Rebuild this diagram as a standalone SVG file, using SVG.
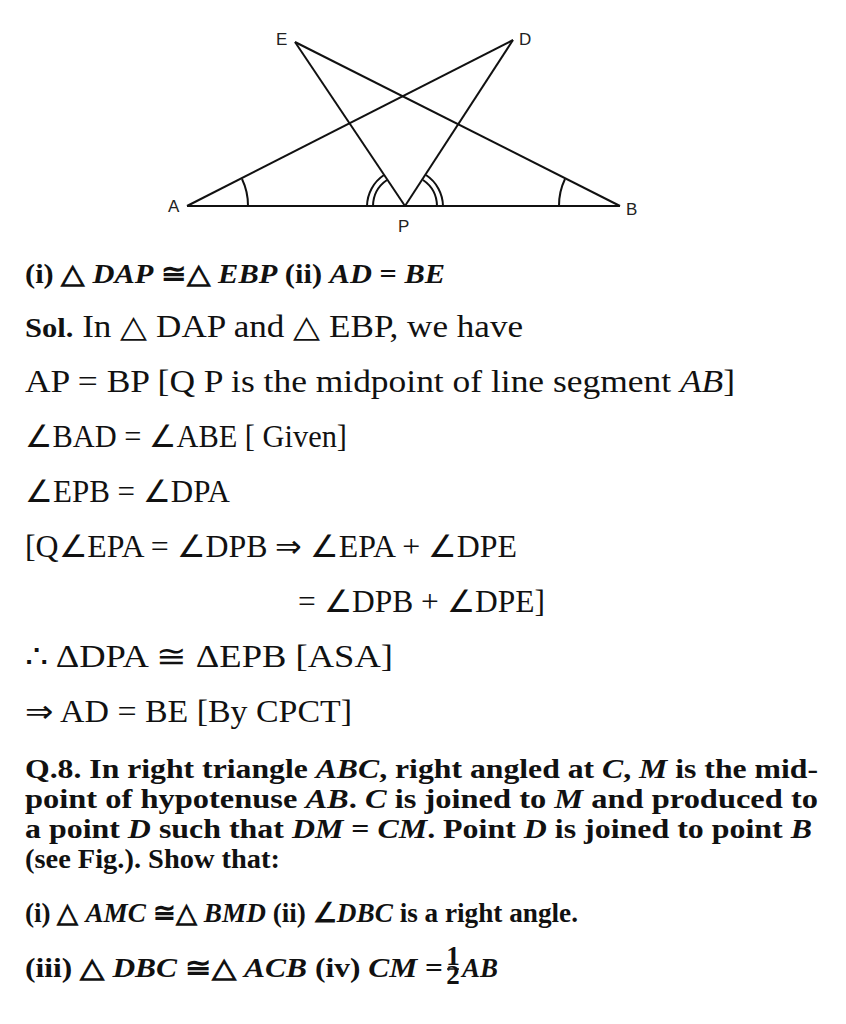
<svg xmlns="http://www.w3.org/2000/svg" width="846" height="1024" viewBox="0 0 846 1024">
<style>
.l{stroke:#111;stroke-width:2;fill:none}
.lb{font-family:"Liberation Sans",sans-serif;font-size:17px;fill:#222}
.t{font-family:"Liberation Serif",serif;font-size:31px;fill:#111}
.b{font-family:"Liberation Serif",serif;font-size:27px;font-weight:bold;fill:#111}
</style>
<rect width="846" height="1024" fill="#fff"/>
<g id="figure">
<g id="lines" class="l">
<line x1="187" y1="206" x2="620" y2="206"/>
<line x1="187" y1="206" x2="513" y2="40"/>
<line x1="405" y1="206" x2="513" y2="40"/>
<line x1="295" y1="42" x2="620" y2="206"/>
<line x1="295" y1="42" x2="405" y2="206"/>
<path d="M248 206 A61 61 0 0 0 242 179"/>
<path d="M559 206 A61 61 0 0 1 565 179"/>
<path d="M367 206 A38 38 0 0 1 384 175"/>
<path d="M373 206 A32 32 0 0 1 387 180"/>
<path d="M443 206 A38 38 0 0 0 426 175"/>
<path d="M437 206 A32 32 0 0 0 423 180"/>
</g>
<text class="lb" x="276" y="45">E</text>
<text class="lb" x="519" y="45">D</text>
<text class="lb" x="168" y="212">A</text>
<text class="lb" x="626" y="215">B</text>
<text class="lb" x="398" y="232">P</text>
</g>
<g id="text">
<text class="b" x="25" y="283" textLength="420" lengthAdjust="spacingAndGlyphs">(i) △ <tspan font-style="italic">DAP</tspan> ≅△ <tspan font-style="italic">EBP</tspan>  (ii) <tspan font-style="italic">AD</tspan> = <tspan font-style="italic">BE</tspan></text>
<text class="t" x="25" y="337" textLength="498" lengthAdjust="spacingAndGlyphs"><tspan class="b" font-size="27">Sol.</tspan> In △ DAP and △ EBP, we have</text>
<text class="t" x="25" y="392" textLength="710" lengthAdjust="spacingAndGlyphs">AP = BP [Q P is the midpoint of line segment <tspan font-style="italic">AB</tspan>]</text>
<text class="t" x="25" y="447" textLength="322" lengthAdjust="spacingAndGlyphs">∠BAD = ∠ABE [ Given]</text>
<text class="t" x="25" y="502" textLength="205" lengthAdjust="spacingAndGlyphs">∠EPB = ∠DPA</text>
<text class="t" x="25" y="557" textLength="492" lengthAdjust="spacingAndGlyphs">[Q∠EPA = ∠DPB ⇒ ∠EPA + ∠DPE</text>
<text class="t" x="298" y="612" textLength="247" lengthAdjust="spacingAndGlyphs">= ∠DPB + ∠DPE]</text>
<text class="t" x="25" y="667" textLength="368" lengthAdjust="spacingAndGlyphs">∴  ΔDPA ≅ ΔEPB  [ASA]</text>
<text class="t" x="25" y="722" textLength="327" lengthAdjust="spacingAndGlyphs">⇒  AD = BE [By CPCT]</text>
<text class="b" x="25" y="778" textLength="793" lengthAdjust="spacingAndGlyphs">Q.8. In right triangle <tspan font-style="italic">ABC</tspan>, right angled at <tspan font-style="italic">C</tspan>, <tspan font-style="italic">M</tspan> is the mid-</text>
<text class="b" x="25" y="808" textLength="793" lengthAdjust="spacingAndGlyphs">point of hypotenuse <tspan font-style="italic">AB</tspan>. <tspan font-style="italic">C</tspan> is joined to <tspan font-style="italic">M</tspan> and produced to</text>
<text class="b" x="25" y="838" textLength="787" lengthAdjust="spacingAndGlyphs">a point <tspan font-style="italic">D</tspan> such that <tspan font-style="italic">DM</tspan> = <tspan font-style="italic">CM</tspan>. Point <tspan font-style="italic">D</tspan> is joined to point <tspan font-style="italic">B</tspan></text>
<text class="b" x="25" y="868" textLength="255" lengthAdjust="spacingAndGlyphs">(see Fig.). Show that:</text>
<text class="b" x="25" y="922" textLength="553" lengthAdjust="spacingAndGlyphs">(i) △ <tspan font-style="italic">AMC</tspan> ≅△ <tspan font-style="italic">BMD</tspan>  (ii) ∠<tspan font-style="italic">DBC</tspan> is a right angle.</text>
<text class="b" x="25" y="977" textLength="418" lengthAdjust="spacingAndGlyphs">(iii) △ <tspan font-style="italic">DBC</tspan> ≅△ <tspan font-style="italic">ACB</tspan>  (iv) <tspan font-style="italic">CM</tspan> =</text>
<text class="b" x="453" y="965" font-size="15" text-anchor="middle">1</text>
<line x1="447" y1="969" x2="459" y2="969" stroke="#111" stroke-width="1.5"/>
<text class="b" x="453" y="984" font-size="15" text-anchor="middle">2</text>
<text class="b" x="462" y="977" font-style="italic">AB</text>
</g>
</svg>
